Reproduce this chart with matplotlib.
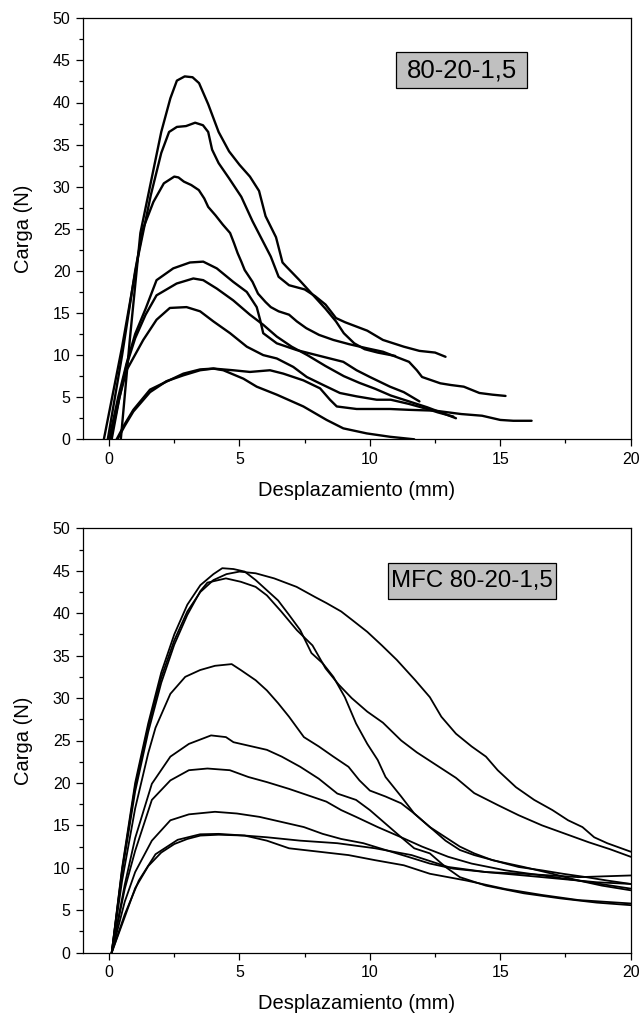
"""
Carga vs desplazamiento, 80-20-1,5 y MFC 80-20-1,5
"""
import numpy as np
import matplotlib
matplotlib.use('Agg')
import matplotlib.pyplot as plt
from matplotlib.ticker import MultipleLocator
from matplotlib.patches import Rectangle

plt.rcParams['font.family'] = ['Liberation Sans', 'DejaVu Sans']

# ---- panel superior: 80-20-1,5 ----
a_x = [0.45, 0.8, 1.2, 1.6, 2.0, 2.35, 2.6, 2.9, 3.2, 3.45, 3.8, 4.2, 4.6, 5.0, 5.4, 5.75, 6.0, 6.4, 6.65, 6.8,
       7.3, 7.8, 8.3, 8.7, 9.0, 9.4, 9.8, 10.3, 10.97]
a_y = [0, 12.0, 24.5, 30.5, 36.5, 40.5, 42.6, 43.1, 43.0, 42.3, 39.8, 36.5, 34.2, 32.6, 31.2, 29.5, 26.5, 24.0, 21.0, 20.5,
       18.9, 17.2, 15.5, 14.0, 12.6, 11.4, 10.7, 10.3, 9.9]
b_x = [-0.2, 0.5, 1.1, 1.6, 2.0, 2.3, 2.6, 2.95, 3.3, 3.6, 3.8, 3.95, 4.2, 4.6, 5.07, 5.5, 5.9, 6.2, 6.5, 6.9,
       7.5, 7.9, 8.3, 8.7, 9.05, 9.9, 10.5, 11.3, 11.9, 12.5, 12.9]
b_y = [0, 11.0, 21.5, 29.0, 34.0, 36.5, 37.1, 37.2, 37.6, 37.3, 36.5, 34.4, 32.8, 31.0, 28.8, 25.9, 23.5, 21.7, 19.3, 18.3,
       17.8, 17.0, 16.0, 14.4, 13.9, 12.9, 11.8, 11.0, 10.5, 10.3, 9.8]
c_x = [-0.05, 0.5, 1.0, 1.3, 1.7, 2.1, 2.5, 2.66, 2.87, 3.15, 3.44, 3.65, 3.8, 4.08, 4.36, 4.64, 4.79, 4.93, 5.07, 5.2,
       5.5, 5.71, 6.0, 6.2, 6.5, 6.9, 7.2, 7.56, 8.05, 8.6, 9.2, 9.9, 10.5, 11.0, 11.5, 11.8, 12.0, 12.7, 13.1,
       13.6, 14.2, 14.7, 15.2]
c_y = [0, 10.0, 20.0, 25.0, 28.2, 30.4, 31.2, 31.1, 30.6, 30.2, 29.6, 28.6, 27.6, 26.6, 25.5, 24.5, 23.3, 22.1, 21.1, 20.1,
       18.7, 17.3, 16.3, 15.7, 15.2, 14.8, 14.0, 13.2, 12.4, 11.8, 11.3, 10.8, 10.4, 9.8, 9.2, 8.2, 7.4, 6.65, 6.45,
       6.25, 5.5, 5.3, 5.15]
d_x = [0.0, 0.35, 0.67, 1.0, 1.4, 1.82, 2.46, 3.1, 3.61, 4.13, 4.76, 5.28, 5.66, 5.79, 5.91, 6.43, 7.19, 8.21, 8.98,
       9.49, 10.0, 10.77, 11.3, 11.9]
d_y = [0, 5.0, 9.0, 12.5, 15.5, 18.9, 20.3, 21.0, 21.1, 20.3, 18.7, 17.5, 15.7, 14.2, 12.6, 11.4, 10.6, 9.8, 9.2,
       8.2, 7.4, 6.25, 5.6, 4.5]
e_x = [0.05, 0.4, 0.67, 1.0, 1.4, 1.82, 2.59, 3.23, 3.61, 4.13, 4.76, 5.4, 5.91, 6.43, 7.0, 7.6, 8.3, 9.0, 9.6, 10.2,
       10.8, 11.5, 12.2, 12.8, 13.3]
e_y = [0, 5.0, 8.8, 12.0, 14.8, 17.1, 18.5, 19.1, 18.9, 17.9, 16.5, 14.8, 13.6, 12.2, 11.0, 10.0, 8.7, 7.5, 6.7, 6.0,
       5.2, 4.5, 3.8, 3.1, 2.5]
f_x = [0.1, 0.4, 0.67, 1.31, 1.82, 2.33, 2.97, 3.49, 4.0, 4.64, 5.28, 5.91, 6.43, 7.06, 7.58, 8.21, 8.85, 9.49, 10.26,
       10.8, 11.5, 12.2, 12.6, 13.2]
f_y = [0, 5.0, 8.2, 11.8, 14.2, 15.6, 15.7, 15.2, 14.0, 12.6, 11.0, 10.0, 9.6, 8.6, 7.4, 6.45, 5.5, 5.1, 4.7,
       4.7, 4.2, 3.6, 3.2, 2.7]
g_x = [0.29, 0.6, 0.93, 1.57, 2.2, 2.85, 3.49, 4.0, 4.76, 5.4, 6.17, 6.68, 7.45, 8.09, 8.47, 8.73, 9.49, 10.77,
       11.5, 12.5, 13.5, 14.3, 15.0, 15.5, 16.2]
g_y = [0, 1.8, 3.5, 5.9, 6.85, 7.8, 8.3, 8.4, 8.2, 8.0, 8.2, 7.8, 7.0, 6.05, 4.7, 3.9, 3.6, 3.6,
       3.5, 3.4, 3.0, 2.8, 2.3, 2.2, 2.2]
h_x = [0.32, 0.6, 0.93, 1.57, 2.2, 2.85, 3.49, 4.0, 4.38, 5.15, 5.66, 6.43, 7.45, 8.34, 8.98, 9.88, 10.77, 11.7]
h_y = [0, 1.6, 3.3, 5.6, 6.9, 7.6, 8.2, 8.4, 8.2, 7.2, 6.25, 5.3, 3.9, 2.3, 1.3, 0.7, 0.3, 0.0]

top_x = [a_x, b_x, c_x, d_x, e_x, f_x, g_x, h_x]
top_y = [a_y, b_y, c_y, d_y, e_y, f_y, g_y, h_y]

# ---- panel inferior: MFC 80-20-1,5 ----
p1_x = [0.1, 0.5, 1.0, 1.5, 2.0, 2.5, 3.0, 3.5, 4.0, 4.34, 4.77, 5.2, 5.62, 6.05, 6.48, 6.9, 7.33, 7.76, 8.19, 8.6,
        9.04, 9.47, 9.9, 10.3, 10.6, 11.2, 11.7, 12.3, 12.9, 13.45, 14.0, 14.6, 15.2, 15.7, 16.6, 17.4, 18.3,
        19.1, 20.0]
p1_y = [0, 10.0, 20.0, 27.0, 33.0, 37.5, 41.0, 43.3, 44.6, 45.3, 45.2, 44.9, 43.9, 42.7, 41.5, 39.8, 38.0, 35.3,
        34.1, 32.5, 30.1, 27.0, 24.6, 22.7, 20.7, 18.4, 16.4, 14.8, 13.2, 12.1, 11.5, 11.0, 10.5, 10.1, 9.7, 9.3,
        8.9, 8.5, 8.1]
p2_x = [0.1, 0.5, 1.0, 1.5, 2.0, 2.5, 3.0, 3.5, 4.0, 4.5, 5.0, 5.62, 6.33, 7.19, 7.9, 8.33, 8.9, 9.32, 9.9, 10.46,
        11.03, 11.74, 12.3, 12.74, 13.3, 13.9, 14.45, 14.9, 15.6, 16.3, 17.0, 17.6, 18.15, 18.6, 19.1, 20.0]
p2_y = [0, 9.8, 19.6, 26.6, 32.4, 36.8, 40.2, 42.5, 43.9, 44.6, 44.9, 44.7, 44.1, 43.1, 41.9, 41.2, 40.2, 39.2,
        37.8, 36.2, 34.5, 32.1, 30.1, 27.8, 25.8, 24.3, 23.1, 21.5, 19.5, 18.0, 16.8, 15.6, 14.8, 13.6, 12.9, 11.9]
p3_x = [0.1, 0.5, 1.0, 1.5, 2.0, 2.5, 3.0, 3.5, 3.77, 4.48, 5.05, 5.62, 6.05, 6.6, 7.2, 7.8, 8.3, 8.8, 9.3,
        9.9, 10.5, 11.2, 11.8, 12.6, 13.3, 14.0, 14.9, 15.7, 16.6, 17.5, 18.4, 19.2, 20.0]
p3_y = [0, 9.5, 19.0, 26.0, 31.8, 36.3, 39.8, 42.6, 43.6, 44.1, 43.7, 43.1, 42.1, 40.2, 38.0, 36.2, 33.5, 31.6,
        30.0, 28.4, 27.1, 25.0, 23.6, 22.0, 20.6, 18.8, 17.4, 16.2, 15.0, 14.0, 13.0, 12.2, 11.3]
q_x = [0.1, 0.5, 1.0, 1.5, 1.78, 2.35, 2.92, 3.49, 4.06, 4.7, 5.05, 5.62, 6.05, 6.48, 6.9, 7.47, 8.04, 8.6, 9.18,
       9.6, 10.0, 10.6, 11.2, 11.7, 12.3, 12.9, 13.45, 14.0, 14.7, 15.9, 17.0, 18.0, 18.9, 20.0]
q_y = [0, 8.5, 17.0, 23.5, 26.5, 30.5, 32.5, 33.3, 33.8, 34.0, 33.3, 32.1, 30.9, 29.4, 27.8, 25.4, 24.3, 23.1,
       21.9, 20.3, 19.1, 18.4, 17.6, 16.4, 14.8, 13.6, 12.5, 11.7, 10.9, 10.1, 9.3, 8.5, 7.9, 7.35]
r_x = [0.1, 0.6, 1.0, 1.64, 2.35, 3.06, 3.91, 4.48, 4.77, 5.48, 6.05, 6.62, 7.33, 8.04, 8.75, 9.47, 10.0, 10.6,
       11.2, 11.7, 12.3, 12.9, 13.45, 14.45, 15.9, 17.3, 18.7, 20.0]
r_y = [0, 8.0, 13.5, 19.9, 23.1, 24.6, 25.6, 25.4, 24.8, 24.3, 23.9, 23.1, 21.9, 20.5, 18.75, 18.0, 16.8, 15.2,
       13.6, 12.3, 11.7, 10.1, 8.9, 7.9, 7.0, 6.4, 5.9, 5.6]
s_x = [0.1, 0.6, 1.0, 1.64, 2.35, 3.06, 3.77, 4.63, 5.34, 6.05, 6.9, 7.76, 8.33, 8.9, 9.47, 10.3, 11.2, 12.0,
       13.0, 13.9, 15.2, 16.6, 18.0, 20.0]
s_y = [0, 7.5, 12.0, 18.0, 20.3, 21.5, 21.7, 21.5, 20.7, 20.1, 19.3, 18.4, 17.8, 16.8, 16.0, 14.8, 13.6, 12.5,
       11.3, 10.5, 9.7, 9.1, 8.5, 7.55]
t_x = [0.1, 0.6, 1.0, 1.64, 2.35, 3.06, 4.06, 4.9, 5.77, 6.62, 7.47, 8.19, 8.9, 9.75, 10.6, 11.46, 12.3, 13.2,
       14.45, 15.9, 17.3, 18.7, 20.0]
t_y = [0, 6.0, 9.5, 13.2, 15.6, 16.3, 16.6, 16.4, 16.0, 15.4, 14.8, 14.0, 13.4, 12.9, 12.1, 11.3, 10.5, 9.9,
       9.5, 9.1, 8.7, 8.3, 8.1]
u1_x = [0.1, 0.6, 1.14, 1.78, 2.63, 3.49, 4.2, 5.2, 6.05, 6.9, 8.04, 9.18, 10.2, 11.3, 12.3, 13.7, 15.2, 16.6,
        18.0, 20.0]
u1_y = [0, 4.5, 8.5, 11.6, 13.3, 13.95, 14.0, 13.8, 13.2, 12.3, 11.9, 11.5, 10.9, 10.3, 9.3, 8.5, 7.5, 6.8,
        6.2, 5.8]
u2_x = [0.1, 0.6, 1.0, 1.5, 2.0, 2.5, 3.0, 3.5, 4.2, 5.2, 6.05, 7.33, 8.75, 10.2, 11.6, 13.0, 14.45, 15.9,
        18.0, 20.0]
u2_y = [0, 4.2, 7.6, 10.2, 11.8, 12.8, 13.4, 13.8, 13.9, 13.8, 13.6, 13.2, 12.9, 12.3, 11.5, 10.1, 9.5, 9.3,
        8.9, 9.1]

bot_x = [p1_x, p2_x, p3_x, q_x, r_x, s_x, t_x, u1_x, u2_x]
bot_y = [p1_y, p2_y, p3_y, q_y, r_y, s_y, t_y, u1_y, u2_y]

# etiquetas en recuadro gris: texto, caja (x0, x1, y0, y1) en unidades de datos, tamano de letra
labels = ['80-20-1,5', 'MFC 80-20-1,5']
label_box = [(10.99, 16.04, 41.7, 46.0), (10.68, 17.15, 41.67, 45.95)]
label_size = [18.5, 17.3]

fig = plt.figure(figsize=(6.4, 10.17), dpi=100)
W, H = 640.0, 1017.0
ax1 = fig.add_axes([83 / W, 1 - 439.3 / H, (630.7 - 83) / W, (439.3 - 18.3) / H])
ax2 = fig.add_axes([83 / W, 1 - 952.7 / H, (630.7 - 83) / W, (952.7 - 528.3) / H])

for xs, ys in zip(top_x, top_y):
    ax1.plot(xs, ys, color='k', lw=1.7, solid_joinstyle='round', solid_capstyle='round')
for xs, ys in zip(bot_x, bot_y):
    ax2.plot(xs, ys, color='k', lw=1.3, solid_joinstyle='round', solid_capstyle='round')

for id, ax in enumerate([ax1, ax2]):
    ax.set_xlim(-1, 20)
    ax.set_ylim(0, 50)
    ax.xaxis.set_major_locator(MultipleLocator(5))
    ax.xaxis.set_minor_locator(MultipleLocator(2.5))
    ax.yaxis.set_major_locator(MultipleLocator(5))
    ax.yaxis.set_minor_locator(MultipleLocator(2.5))
    ax.tick_params(which='major', direction='out', length=5, width=0.9, labelsize=11.5, pad=4)
    ax.tick_params(which='minor', direction='out', length=3, width=0.9)
    for sp in ax.spines.values():
        sp.set_linewidth(0.9)
    ax.set_xlabel('Desplazamiento (mm)', fontsize=14.5, labelpad=10)
    ax.set_ylabel('Carga (N)', fontsize=14.5, labelpad=14)
    x0, x1, y0, y1 = label_box[id]
    ax.add_patch(Rectangle((x0, y0), x1 - x0, y1 - y0, facecolor='#c0c0c0', edgecolor='k',
                           linewidth=0.9, zorder=3))
    ax.text((x0 + x1) / 2, (y0 + y1) / 2, labels[id], fontsize=label_size[id], ha='center', va='center',
            zorder=4)

plt.savefig('out.png', dpi=100)
